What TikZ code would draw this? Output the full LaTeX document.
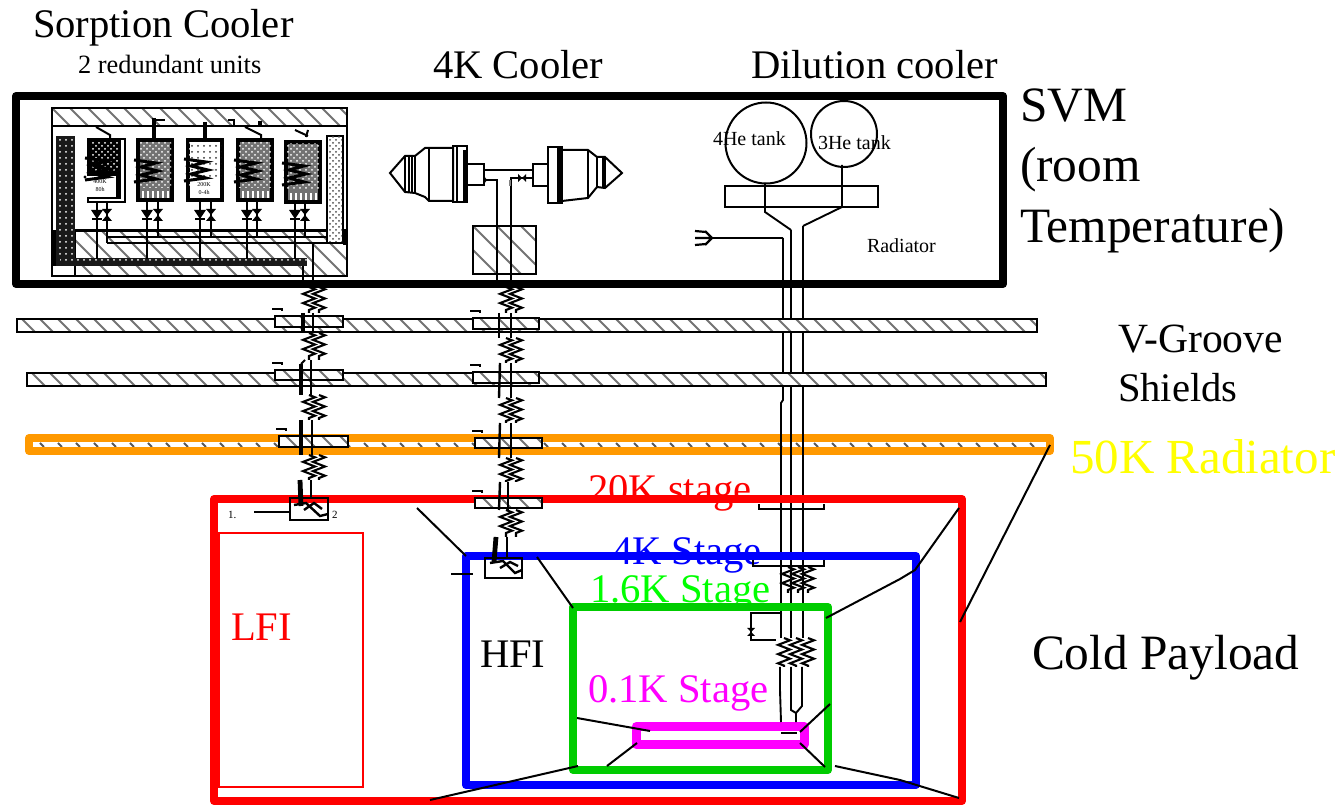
\documentclass[tikz,border=0pt]{standalone}
\usepackage{fontspec}
\setmainfont{Liberation Serif}
\usetikzlibrary{patterns,decorations.pathmorphing}
\definecolor{orangeR}{RGB}{255,153,0}
\definecolor{greenS}{RGB}{0,204,0}
\definecolor{limeT}{RGB}{0,255,0}
\definecolor{magS}{RGB}{255,0,255}
\definecolor{yelT}{RGB}{255,255,0}
\tikzset{
  tube/.style={line width=0.95pt,black,line join=miter},
  lbl/.style={anchor=base west,inner sep=0pt,outer sep=0pt},
  coilspring/.style={line width=1.05pt,decorate,decoration={zigzag,segment length=4.6pt,amplitude=3pt}},
  stagebox/.style={line width=4pt,line join=round,fill=none},
  strut/.style={line width=1pt,black},
  clampbox/.style={line width=1pt,draw=black},
  cell/.style={line width=2.2pt,draw=black},
}
% hatched rectangle: x1 y1 x2 y2 spacing
\newcommand{\hatchrect}[5]{%
  \begin{scope}
    \clip (#1,#2) rectangle (#3,#4);
    \fill[white] (#1,#2) rectangle (#3,#4);
    \pgfmathsetmacro{\hh}{#4-#2}
    \pgfmathsetmacro{\xstart}{#1-\hh}
    \pgfmathsetmacro{\xnext}{#1-\hh+#5}
    \foreach \xx in {\xstart,\xnext,...,#3}{
      \draw[line width=1pt,black!55] (\xx,#2) -- ++(\hh,\hh);
    }
  \end{scope}
  \draw[line width=1pt] (#1,#2) rectangle (#3,#4);
}
% diode symbols: x y
\newcommand{\diodea}[2]{%
  \fill (#1-6,#2-5) -- (#1+6,#2-5) -- (#1,#2+4) -- cycle;
  \draw[line width=1.2pt] (#1-5,#2+4) -- (#1+5,#2+4);
}
\newcommand{\diodeb}[2]{%
  \fill (#1-5,#2-6) -- (#1+5,#2-6) -- (#1,#2) -- cycle;
  \fill (#1-5,#2+6) -- (#1+5,#2+6) -- (#1,#2) -- cycle;
}
% chain spring: xcentre y1 y2
\newcommand{\springpair}[3]{%
  \draw[coilspring] (#1-5,#2) -- (#1-5,#3);
  \draw[coilspring] (#1+5,#2) -- (#1+5,#3);
}
% clamp on a shield: x1 y1 x2 y2
\newcommand{\clampon}[4]{%
  \hatchrect{#1}{#2}{#3}{#4}{18}
  \draw[line width=0.9pt] (#1-3,#2-7) -- (#1+7,#2-7) -- (#1+7,#2-5);
}
\begin{document}
\begin{tikzpicture}[x=0.5pt,y=-0.5pt,font=\fontsize{20.3pt}{24pt}\selectfont]
\useasboundingbox (0,0) rectangle (1344,806);
\fill[white] (0,0) rectangle (1344,806);

% ---- texts
\node[lbl] (tSorp) at (33,38) {Sorption Cooler};
\node[lbl,font=\fontsize{13.2pt}{15pt}\selectfont] (tRed) at (78,74) {2 redundant units};
\node[lbl] (t4K) at (433,79) {4K Cooler};
\node[lbl] (tDil) at (751,79) {Dilution cooler};
\node[lbl,font=\fontsize{24.7pt}{28pt}\selectfont] (tSVM) at (1020,122) {SVM};
\node[lbl,font=\fontsize{24.7pt}{28pt}\selectfont] (tRoom) at (1020,182) {(room};
\node[lbl,font=\fontsize{24.7pt}{28pt}\selectfont] (tTemp) at (1020,243) {Temperature)};
\node[lbl,font=\fontsize{20.8pt}{24pt}\selectfont] (tV) at (1118,353) {V-Groove};
\node[lbl] (tSh) at (1118,402) {Shields};
\node[lbl,font=\fontsize{24.5pt}{28pt}\selectfont,text=yelT] (t50) at (1070,474) {50K Radiator};
\node[lbl,text=red] (t20) at (588,503) {20K stage};
\node[lbl,text=blue] (t4s) at (612,565) {4K Stage};
\node[lbl,text=limeT] (t16) at (590,603) {1.6K Stage};
\node[lbl,text=magS] (t01) at (588,703) {0.1K Stage};
\node[lbl,text=red] (tLFI) at (231,640) {LFI};
\node[lbl] (tHFI) at (480,668) {HFI};
\node[lbl,font=\fontsize{24.7pt}{28pt}\selectfont] (tCold) at (1032,669) {Cold Payload};

% ---- dilution pipes (under shields)
\draw[tube] (783,238) -- (783,400) -- (781,403) -- (781,667);
\draw[tube] (791,230) -- (791,667);
\draw[tube] (803,226) -- (803,667);

% ---- V-groove shields
\hatchrect{17}{319}{1037}{332}{18}
\hatchrect{27}{373}{1046}{386}{18}

% ---- 50K radiator: orange frame with hatch ticks inside
\fill[white] (29,438) rectangle (1050,451);
\foreach \tx in {40,58,...,1040}{
  \draw[line width=0.9pt,black!65] (\tx,443) -- ++(4,4);
}
\draw[orangeR,line width=4pt,line join=round] (29,438) rectangle (1050,451);
\draw[tube] (781,432) -- (781,460);
\draw[tube] (791,432) -- (791,460);
\draw[tube] (803,432) -- (803,460);

% ---- thin LFI box
\draw[red,line width=0.7pt] (219,533) rectangle (363,787);

% ---- stage boxes
\draw[red,stagebox] (214,499) rectangle (962,801);
\draw[blue,stagebox] (466,556) rectangle (916,785);
\draw[greenS,stagebox] (573,607) rectangle (828,770);
\draw[magS,line width=4.5pt,line join=round] (636,726.5) rectangle (804,744.5);

% ---- clamps on dilution pipes
\draw[clampbox] (759,504) -- (759,509) -- (824,509) -- (824,504);
\draw[clampbox] (753,560) -- (753,566) -- (824,566) -- (824,560);

% ---- SVM box
\draw[line width=4pt,line join=round] (16,96) rectangle (1003,284);

% ---- sorption cooler
\hatchrect{52}{108}{347}{126}{18}
\hatchrect{75}{230}{347}{276}{18}
\draw[line width=0.9pt] (52,108) rectangle (347,276);
\fill[black!90] (56,136) rectangle (75,265);
\fill[pattern=dots,pattern color=white] (56,136) rectangle (75,265);
\fill[black!90] (56,258) rectangle (307,266);
\fill[pattern=dots,pattern color=white] (60,259) rectangle (307,265);
\fill (52,230) rectangle (56,266);
\draw[line width=0.9pt,fill=white] (327,136) rectangle (343,243);
\fill[pattern=crosshatch dots,pattern color=black!70] (328,137) rectangle (342,242);
\fill (343,230) rectangle (346,245);
\draw[tube] (75,231) -- (327,231);
\draw[tube] (107,237) -- (327,237);
\draw[tube] (107,243) -- (327,243);
% cell bodies
\foreach \cx/\cy in {137/139,187/139,237/139,285/141}{
  \draw[cell,fill=black!55] (\cx+1,\cy+1) rectangle ++(34,60);
  \fill[pattern=crosshatch dots,pattern color=white] (\cx+2,\cy+3) rectangle ++(32,46);
  \foreach \sx in {5,10,...,30}{\fill[white] (\cx+\sx,\cy+52) rectangle ++(2,7);}
}
% cell 1: double wall, dark, label panel
\draw[line width=1pt,fill=white] (88,139) rectangle (125,202);
\fill (88,139) rectangle (121,199);
\fill[pattern=crosshatch dots,pattern color=white] (91,143) rectangle (119,172);
\fill[white] (84,176) rectangle (116,197);
\fill (85,177) circle[radius=1.6];
\node[font=\fontsize{3pt}{4pt}\selectfont,align=center] (c1) at (100,186) {400K\\80h};
% cell 3: light, with label panel
\fill[white] (190,142) rectangle (220,198);
\fill[pattern=dots,pattern color=black!80] (190,142) rectangle (220,178);
\node[font=\fontsize{3pt}{4pt}\selectfont,align=center] (c3) at (204,189) {200K\\0-4h};
% stems on top of cells
\draw[line width=1pt] (96,127) -- (110,135) -- (110,139);
\draw[line width=2pt] (154,118) -- (154,139);
\draw[line width=0.9pt] (153,120) -- (165,120);
\draw[line width=2pt] (205,122) -- (205,139);
\draw[line width=0.9pt] (228,120) -- (234,120) -- (234,125);
\draw[line width=1pt] (245,127) -- (261,135) -- (261,139);
\draw[line width=2pt] (260,121) -- (260,127);
\draw[line width=1pt] (295,130) -- (308,136);
\draw[line width=1pt] (308,130) -- (306,137);
% heater coils in cells
\foreach \lx/\dy in {88/-2,137/0,187/-1,237/0,285/3}{
  \draw[line width=1.5pt] (\lx-3,160+\dy) -- (\lx+19,163+\dy) -- (\lx+4,167+\dy) -- (\lx+21,171+\dy) -- (\lx+4,175+\dy) -- (\lx+19,179+\dy) -- (\lx-3,182+\dy);
}
% pipes and diodes below cells
\foreach \xa/\xb/\yb/\yc in {97/107/201/243,147/158/201/237,200/211/201/237,247/257/201/237,295/305/203/237}{
  \draw[tube] (\xa,\yb) -- (\xa,259);
  \draw[tube] (\xb,\yb) -- (\xb,\yc);
  \diodea{\xa}{215}
  \diodeb{\xb}{215}
}
\draw[tube] (303,266) -- (303,287);
\draw[tube] (313,243) -- (313,287);

% ---- 4K cooler
\draw[line width=1pt,fill=white] (429,148) -- (425,148) -- (415,156) -- (405,156) -- (390,173) -- (405,192) -- (415,193) -- (425,197) -- (429,201) -- (453,201) -- (453,148) -- cycle;
\draw[line width=0.8pt] (405,156) -- (405,192) (409,156) -- (409,192) (412,156) -- (412,193) (415,156) -- (415,193) (429,148) -- (429,201);
\draw[line width=1pt] (453,146) rectangle (467,202);
\draw[line width=0.9pt] (457,146) -- (457,202);
\draw[line width=1.6pt] (465,150) -- (465,202);
\draw[line width=1pt] (467,164) rectangle (484,185);
\draw[line width=1pt] (484,170) -- (533,170);
\draw[line width=1pt] (533,164) rectangle (548,186);
\draw[line width=1pt] (548,147) rectangle (562,203);
\fill (557,147) rectangle (562,203);
\draw[line width=1pt] (562,150) -- (588,150) -- (597,157) -- (605,157) -- (622,173) -- (605,188) -- (597,187) -- (588,198) -- (562,201);
\draw[line width=0.8pt] (588,150) -- (588,198) (597,157) -- (597,187);
\draw[line width=1.6pt] (604,157) -- (604,188);
\hatchrect{473}{226}{536}{274}{24}
\draw[tube] (484,180) -- (497,180) -- (497,287);
\draw[tube] (533,178) -- (511,178) -- (511,287);
\fill (484,176) -- (487,180) -- (484,184) -- cycle;
\draw[line width=1pt,black!50] (510,180) -- (510,186);
\fill (518,174) -- (518,182) -- (522,178) -- cycle;
\fill (526,174) -- (526,182) -- (522,178) -- cycle;

% ---- dilution cooler
\draw[line width=1pt] (766,143) circle[radius=40.5];
\draw[line width=1pt] (844,134) circle[radius=33];
\node[lbl,font=\fontsize{10pt}{12pt}\selectfont] (t4He) at (713,146) {4He tank};
\node[lbl,font=\fontsize{10pt}{12pt}\selectfont] (t3He) at (818,150) {3He tank};
\node[lbl,font=\fontsize{10pt}{12pt}\selectfont] (tRad) at (867,253) {Radiator};
\draw[line width=0.9pt] (725,186) rectangle (878,207);
\draw[tube] (765,183) -- (765,212) -- (791,230);
\draw[tube] (842,165) -- (842,207) -- (803,226);
\draw[tube] (783,238) -- (712,238);
\draw[line width=1.1pt] (712,238) -- (705,231) (712,238) -- (705,245) (712,238) -- (695,238) (706,232) -- (695,231) (706,244) -- (695,245);

% ---- left chain (sorption)
\clampon{275}{316}{343}{327}
\clampon{275}{370}{343}{380}
\clampon{279}{436}{348}{447}
\springpair{314}{287}{313}
\springpair{314}{333}{360}
\springpair{314}{395}{420}
\springpair{314}{455}{480}
\draw[line width=2pt] (303,313) -- (303,333);
\draw[tube] (313,313) -- (313,333);
\draw[tube] (305,360) -- (301,364);
\draw[line width=2pt] (301,364) -- (301,395);
\draw[tube] (311,360) -- (311,395);
\draw[line width=2pt] (301,420) -- (301,455);
\draw[tube] (312,420) -- (312,455);
\draw[line width=2.4pt] (300,480) -- (301,506);
\draw[tube] (311,480) -- (311,499);
\draw[clampbox] (290,498) rectangle (328,520);
\draw[line width=1.2pt] (294,505) -- (306,503) -- (320,516) -- (328,514);
\draw[line width=1.2pt] (304,510) -- (314,503) -- (322,509);
\draw[line width=0.9pt] (254,512) -- (290,512);
\node[lbl,font=\fontsize{5.5pt}{7pt}\selectfont] (tOne) at (228,519) {1.};
\node[lbl,font=\fontsize{5.5pt}{7pt}\selectfont] (tTwo) at (332,519) {2};

% ---- right chain (4K)
\clampon{473}{318}{539}{329}
\clampon{473}{372}{539}{383}
\clampon{475}{438}{542}{448}
\clampon{475}{498}{542}{508}
\springpair{511}{287}{313}
\springpair{511}{338}{363}
\springpair{511}{398}{423}
\springpair{511}{458}{482}
\springpair{511}{510}{537}
\draw[line width=1.2pt] (499,313) -- (499,338);
\draw[tube] (511,313) -- (511,338);
\draw[line width=1.2pt] (500,363) -- (499,398);
\draw[tube] (511,363) -- (511,398);
\draw[line width=1.2pt] (500,423) -- (499,458);
\draw[tube] (511,423) -- (511,458);
\draw[line width=1.2pt] (500,482) -- (499,510);
\draw[tube] (508,482) -- (508,510);
\draw[line width=2.4pt] (496,537) -- (494,562);
\draw[tube] (507,537) -- (507,558);
\draw[clampbox] (485,558) rectangle (522,578);
\draw[line width=1.2pt] (490,563) -- (503,561) -- (515,573) -- (522,570);
\draw[line width=1.2pt] (500,568) -- (510,562) -- (518,566);
\draw[line width=0.9pt] (451,574) -- (473,574);

% ---- dilution lower stage
\draw[coilspring] (788,567) -- (788,593);
\draw[coilspring] (798,567) -- (798,593);
\draw[coilspring] (808,567) -- (808,593);
\draw[line width=0.9pt] (782,613) -- (751,613) -- (751,640) -- (780,640);
\fill (747,628) -- (755,628) -- (751,632) -- cycle;
\fill (747,636) -- (755,636) -- (751,632) -- cycle;
\fill[white] (776,638) rectangle (818,667);
\draw[coilspring] (784,638) -- (784,667);
\draw[coilspring] (796,638) -- (796,667);
\draw[coilspring] (808,638) -- (808,667);
\draw[tube] (780,667) -- (780,690) -- (781,722);
\draw[tube] (791,667) -- (791,710) -- (796,713) -- (796,722);
\draw[tube] (802,667) -- (802,706) -- (796,713);
\draw[line width=1pt] (781,733) -- (797,733);

% ---- mechanical struts
\draw[strut] (417,508) -- (466,556);
\draw[strut] (537,557) -- (573,608);
\draw[strut] (1050,445) -- (960,622);
\draw[strut] (959,508) -- (915,570) -- (900,579) -- (826,618);
\draw[strut] (577,718) -- (650,731);
\draw[strut] (607,766) -- (637,743);
\draw[strut] (800,732) -- (830,704);
\draw[strut] (800,743) -- (825,767);
\draw[strut] (578,766) -- (430,800);
\draw[strut] (835,766) -- (900,780) -- (959,798);
\end{tikzpicture}
\end{document}
